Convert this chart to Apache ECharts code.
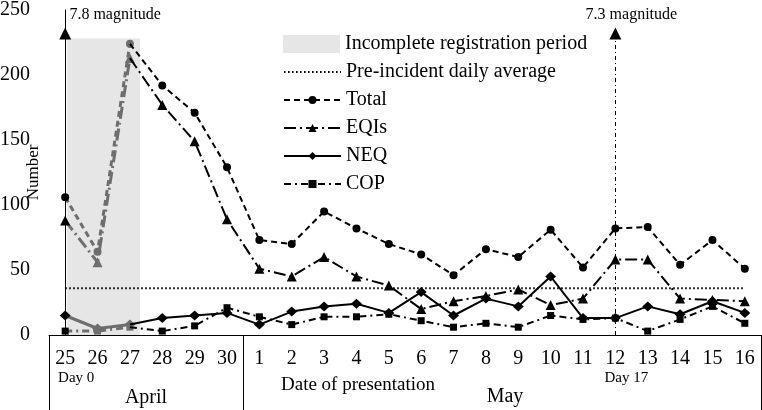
<!DOCTYPE html>
<html>
<head>
<meta charset="utf-8">
<script src="https://cdn.jsdelivr.net/npm/echarts@6/dist/echarts.min.js"></script>
<style>
html,body{margin:0;padding:0;background:#fff;}
#chart{width:762px;height:410px;}
</style>
</head>
<body>
<div id="chart"></div>
<script>
// ---------- data ----------
const categories = ['25','26','27','28','29','30','1','2','3','4','5','6','7','8','9','10','11','12','13','14','15','16'];
const subLabels  = ['Day 0','','','','','','','','','','','','','','','','','Day 17','','','',''];
const total = [106, 64, 224, 192, 171, 129, 73, 70, 95, 82, 70, 62, 46, 66, 60, 81, 52, 82, 83, 54, 73, 51];
const eqis  = [ 88, 56, 213, 177, 149,  89, 51, 45, 60, 45, 38, 20, 26, 30, 35, 23, 28, 58, 58, 28, 27, 26];
const neq   = [ 15,  5,   8,  13,  15,  17,  8, 18, 22, 24, 17, 33, 15, 28, 22, 45, 13, 13, 22, 16, 26, 17];
const cop   = [  3,  3,   6,   3,   7,  21, 14,  8, 14, 14, 16, 11,  6,  9,  6, 15, 12, 13,  3, 12, 22,  9];
const preIncidentAverage = 36;
const quakeDays   = ['25', '12'];
const quakeLabels = ['7.8 magnitude', '7.3 magnitude'];
const quakeTop = 232;
const incompleteFrom = 0.06, incompleteTo = 2.31, incompleteTop = 228; // category-index units / values
const lastIncompleteIndex = 2;
const yMin = 0, yMax = 250, yInterval = 50;
const monthLabels = ['April', 'Date of presentation', 'May'];

// ---------- styles ----------
const FONT = '"Liberation Serif", "Times New Roman", serif';
const GRAY = '#6e6e6e';
const metrics = [
  {name: 'Total', data: total, symbol: 'circle',  size: 8,       dash: [6, 4]},
  {name: 'EQIs',  data: eqis,  symbol: 'triangle', size: 10,     dash: [12, 4, 2, 4]},
  {name: 'NEQ',   data: neq,   symbol: 'diamond',  size: [11, 10], dash: 'solid'},
  {name: 'COP',   data: cop,   symbol: 'rect',     size: 7,      dash: [7, 4, 2, 4]}
];
const quakePad = [100, 32];

const series = [];
series.push({
  name: 'Incomplete registration period',
  type: 'line', xAxisIndex: 1, data: [], color: '#e6e6e6', z: 0,
  markArea: {
    silent: true,
    itemStyle: {color: '#e6e6e6'},
    data: [[{coord: [incompleteFrom, yMin]}, {coord: [incompleteTo, incompleteTop]}]]
  }
});
series.push({
  name: 'Pre-incident daily average',
  type: 'line', data: categories.map(() => preIncidentAverage),
  symbol: 'none', color: '#000', z: 1,
  lineStyle: {color: '#000', width: 2, type: [1.6, 2.4]}
});

metrics.forEach((m, k) => {
  const grayData = m.data.map((v, i) => i === 0 ? {value: v, symbol: 'none'} : (i <= lastIncompleteIndex ? v : null));
  const blackData = m.data.map((v, i) => (i > 0 && i < lastIncompleteIndex) ? null : (i === lastIncompleteIndex ? {value: v, symbol: 'none'} : v));
  series.push({
    name: m.name + ' (incomplete)', type: 'line', data: grayData,
    symbol: m.symbol, symbolSize: m.size, color: GRAY, z: 2,
    itemStyle: {color: GRAY}, connectNulls: false,
    lineStyle: {color: GRAY, width: 3, type: m.dash}
  });
  const s = {
    name: m.name, type: 'line', data: blackData,
    symbol: m.symbol, symbolSize: m.size, color: '#000', z: 3,
    itemStyle: {color: '#000'}, connectNulls: false,
    lineStyle: {color: '#000', width: 2, type: m.dash}
  };
  if (k === 0) {
    s.markLine = {
      silent: true, animation: false,
      symbol: ['none', 'triangle'], symbolSize: 12,
      lineStyle: {color: '#000', width: 1, type: [4, 3, 1, 3]},
      label: {show: true, position: 'end', distance: 11, fontFamily: FONT, fontSize: 16, color: '#000'},
      data: quakeDays.map((d, i) => [
        {coord: [d, yMin]},
        {coord: [d, quakeTop], label: {formatter: quakeLabels[i], padding: [0, 0, 0, quakePad[i]]}}
      ])
    };
  }
  series.push(s);
});

const chart = echarts.init(document.getElementById('chart'), null, {renderer: 'canvas'});
chart.setOption({
  animation: false,
  backgroundColor: '#fff',
  textStyle: {fontFamily: FONT},
  grid: {left: 49, right: 1, top: 10, bottom: 75, containLabel: false, outerBoundsMode: 'none'},
  legend: [
    {
      data: [{name: 'Incomplete registration period', icon: 'rect'}],
      orient: 'vertical', left: 278, top: 29,
      itemWidth: 57, itemHeight: 18, itemGap: 8,
      selectedMode: false,
      textStyle: {fontFamily: FONT, fontSize: 20, color: '#000', lineHeight: 20}
    },
    {
      data: [
        {name: 'Pre-incident daily average', itemStyle: {opacity: 0}},
        'Total', 'EQIs', 'NEQ', 'COP'
      ],
      orient: 'vertical', left: 278, top: 57,
      itemWidth: 57, itemHeight: 10, itemGap: 8,
      selectedMode: false,
      textStyle: {fontFamily: FONT, fontSize: 20, color: '#000', lineHeight: 20}
    }
  ],
  xAxis: [
    {
      type: 'category', data: categories, boundaryGap: true,
      axisLine: {show: true, lineStyle: {color: '#000', width: 1}},
      axisTick: {show: true, length: 75, lineStyle: {color: '#000', width: 1},
        interval: function (i) { return i === 0 || i === 6; }},
      axisLabel: {
        interval: 0, margin: 13, color: '#000',
        formatter: function (v, i) {
          const sub = subLabels[categories.indexOf(v)];
          return sub ? '{n|' + v + '}\n{d|' + sub + '}' : '{n|' + v + '}';
        },
        rich: {
          n: {fontFamily: FONT, fontSize: 20, lineHeight: 22, color: '#000'},
          d: {fontFamily: FONT, fontSize: 15, lineHeight: 16, color: '#000', padding: [0, 0, 0, 22]}
        }
      },
      splitLine: {show: false}
    },
    {type: 'value', min: -0.5, max: categories.length - 0.5, show: false}
  ],
  yAxis: {
    type: 'value', min: yMin, max: yMax, interval: yInterval,
    name: 'Number', nameLocation: 'middle', nameGap: 7, nameRotate: 90, nameMoveOverlap: false,
    nameTextStyle: {fontFamily: FONT, fontSize: 17, color: '#000'},
    axisLine: {show: true, lineStyle: {color: '#000', width: 1}},
    axisTick: {show: false},
    splitLine: {show: false},
    axisLabel: {margin: 19, fontFamily: FONT, fontSize: 20, color: '#000'}
  },
  graphic: [
    {type: 'text', x: 146, y: 398, style: {text: monthLabels[0], font: '20px ' + FONT, fill: '#000', align: 'center', verticalAlign: 'middle'}},
    {type: 'text', x: 358, y: 385, style: {text: monthLabels[1], font: '19px ' + FONT, fill: '#000', align: 'center', verticalAlign: 'middle'}},
    {type: 'text', x: 505, y: 397, style: {text: monthLabels[2], font: '20px ' + FONT, fill: '#000', align: 'center', verticalAlign: 'middle'}}
  ],
  series: series
});
</script>
</body>
</html>
